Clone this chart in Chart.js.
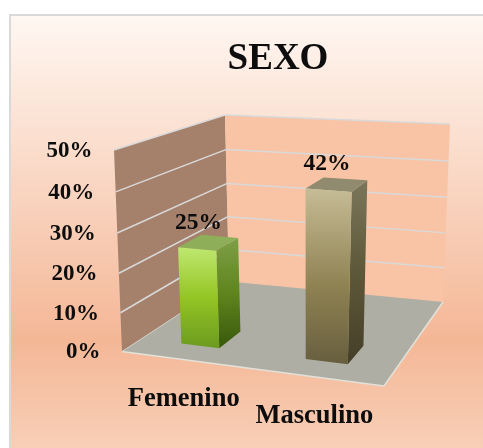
<!DOCTYPE html>
<html>
<head>
<meta charset="utf-8">
<title>SEXO</title>
<style>
  html, body { margin: 0; padding: 0; background: #fff; }
  canvas { display: block; }
</style>
<script src="https://cdn.jsdelivr.net/npm/chart.js@4"></script>
</head>
<body>
<canvas id="myChart" width="483" height="448"></canvas>
<script>
// data
const categories = ['Femenino', 'Masculino'];
const values = [0.25, 0.42];
const tickValues = [0, 0.1, 0.2, 0.3, 0.4, 0.5];
const tickLabels = ['0%', '10%', '20%', '30%', '40%', '50%'];

const serif = '"Liberation Serif", "Times New Roman", serif';
const textColor = '#0d0d0d';
const gridColor = '#d9d9d9';

// corners of the 3D box on screen, floor then ceiling: front-left, front-right, back-right, back-left
const floorQuad = [[122, 351.5], [384, 386], [443, 302], [229, 281.5]];
const roofQuad = [[114, 150], [396, 170], [450, 124], [225, 115]];
const barFrontDepth = 0.153;
const barBackDepth = 0.357;

// square to quad perspective map
function makeHomography(q) {
    const [[x0, y0], [x1, y1], [x2, y2], [x3, y3]] = q;
    const dx1 = x1 - x2, dx2 = x3 - x2, sx = x0 - x1 + x2 - x3;
    const dy1 = y1 - y2, dy2 = y3 - y2, sy = y0 - y1 + y2 - y3;
    const det = dx1 * dy2 - dx2 * dy1;
    const g = (sx * dy2 - dx2 * sy) / det;
    const h = (dx1 * sy - sx * dy1) / det;
    const a = x1 - x0 + g * x1, b = x3 - x0 + h * x3;
    const d = y1 - y0 + g * y1, e = y3 - y0 + h * y3;
    return (u, v) => {
        const w = g * u + h * v + 1;
        return [(a * u + b * v + x0) / w, (d * u + e * v + y0) / w];
    };
}
const floorMap = makeHomography(floorQuad);
const roofMap = makeHomography(roofQuad);

// u across the categories, v into the depth, w up the value axis (all 0..1)
function project(u, v, w) {
    const lift = w / (1 + 0.05 * (1 - w));
    const p = floorMap(u, v), q = roofMap(u, v);
    return [p[0] + (q[0] - p[0]) * lift, p[1] + (q[1] - p[1]) * lift];
}

function poly(ctx, pts, fill, stroke, lw) {
    ctx.beginPath();
    pts.forEach((p, i) => i ? ctx.lineTo(p[0], p[1]) : ctx.moveTo(p[0], p[1]));
    ctx.closePath();
    if (fill) { ctx.fillStyle = fill; ctx.fill(); }
    if (stroke) { ctx.strokeStyle = stroke; ctx.lineWidth = lw || 1; ctx.stroke(); }
}

function segment(ctx, a, b, color, lw) {
    ctx.beginPath();
    ctx.moveTo(a[0], a[1]);
    ctx.lineTo(b[0], b[1]);
    ctx.strokeStyle = color;
    ctx.lineWidth = lw;
    ctx.stroke();
}

function vGrad(ctx, y0, y1, stops) {
    const g = ctx.createLinearGradient(0, y0, 0, y1);
    stops.forEach(s => g.addColorStop(s[0], s[1]));
    return g;
}

function fractionOfScale(scale, value) {
    return (scale.bottom - scale.getPixelForValue(value)) / (scale.bottom - scale.top);
}

const barStyles = [
    { front: [[0, '#bfe870'], [0.5, '#93c524'], [1, '#6c9a1f']], side: [[0, '#7f9f47'], [0.5, '#5f851d'], [1, '#38580c']], top: '#8fae59' },
    { front: [[0, '#c6bc96'], [0.55, '#8f8353'], [1, '#675e3f']], side: [[0, '#7b755b'], [0.5, '#5e583a'], [1, '#453e28']], top: '#908b6f' }
];

const box3d = {
    id: 'box3d',
    beforeDraw(chart) {
        const ctx = chart.ctx;
        ctx.save();
        ctx.fillStyle = '#fff';
        ctx.fillRect(0, 0, chart.width, chart.height);
        ctx.fillStyle = gridColor;
        ctx.fillRect(9, 14, chart.width - 9, chart.height - 14);
        ctx.fillStyle = vGrad(ctx, 16, 448, [[0, '#fff7f2'], [0.75, '#f4b796'], [1, '#f8cfb7']]);
        ctx.fillRect(11, 16, chart.width - 11, chart.height - 16);
        ctx.restore();
    },
    beforeDatasetsDraw(chart) {
        const ctx = chart.ctx, y = chart.scales.y;
        ctx.save();
        // walls and floor
        poly(ctx, [project(0, 0, 0), project(0, 0, 1), project(0, 1, 1), project(0, 1, 0)], '#a5816c');
        poly(ctx, [project(0, 1, 0), project(0, 1, 1), project(1, 1, 1), project(1, 1, 0)], '#f8c4a5');
        poly(ctx, [project(0, 0, 0), project(1, 0, 0), project(1, 1, 0), project(0, 1, 0)], '#aeaea4');
        // gridlines come from the value axis
        y.ticks.forEach(t => {
            const w = fractionOfScale(y, t.value);
            if (w > 0.001) {
                segment(ctx, project(0, 0, w), project(0, 1, w), gridColor, 1.5);
                segment(ctx, project(0, 1, w), project(1, 1, w), gridColor, 1.5);
            }
        });
        segment(ctx, project(0, 0, 0), project(1, 0, 0), '#e2e2da', 1.5);
        segment(ctx, project(1, 0, 0), project(1, 1, 0), '#e2e2da', 1.5);
        segment(ctx, project(0, 0, 0), project(0, 1, 0), '#d0d0c8', 1);
        ctx.restore();
    },
    afterDatasetsDraw(chart) {
        const ctx = chart.ctx, area = chart.chartArea, y = chart.scales.y, x = chart.scales.x;
        const bars = chart.getDatasetMeta(0).data;
        ctx.save();
        bars.forEach((el, i) => {
            const st = barStyles[i];
            const u0 = (el.x - el.width / 2 - area.left) / area.width;
            const u1 = (el.x + el.width / 2 - area.left) / area.width;
            const w = (el.base - el.y) / (y.bottom - y.top);
            const v0 = barFrontDepth, v1 = barBackDepth;
            const fl = project(u0, v0, 0), fr = project(u1, v0, 0), br = project(u1, v1, 0);
            const tfl = project(u0, v0, w), tfr = project(u1, v0, w), tbr = project(u1, v1, w), tbl = project(u0, v1, w);
            poly(ctx, [fr, tfr, tbr, br], vGrad(ctx, tbr[1], fr[1], st.side));
            poly(ctx, [tfl, tfr, tbr, tbl], st.top);
            poly(ctx, [fl, tfl, tfr, fr], vGrad(ctx, tfl[1], fr[1], st.front));

            ctx.fillStyle = textColor;
            ctx.textAlign = 'center';
            ctx.textBaseline = 'middle';
            ctx.font = 'bold 23.5px ' + serif;
            // value label sits over the middle of the bar's top face
            const top = project((u0 + u1) / 2, (v0 + v1) / 2, w);
            ctx.fillText(Math.round(values[i] * 100) + '%', top[0] - 10, top[1] - 20);
        });

        // axis labels follow the front edges of the box
        ctx.fillStyle = textColor;
        ctx.textBaseline = 'middle';
        ctx.textAlign = 'right';
        ctx.font = 'bold 23px ' + serif;
        y.ticks.forEach(t => {
            const p = project(0, 0, fractionOfScale(y, t.value));
            ctx.fillText(t.label, p[0] - 21.5, p[1] + 1);
        });
        ctx.textAlign = 'center';
        ctx.font = 'bold 26.5px ' + serif;
        categories.forEach((c, i) => {
            const p = project((x.getPixelForValue(i) - area.left) / area.width, 0, 0);
            ctx.fillText(c, p[0] + 1.5, p[1] + 40);
        });
        ctx.restore();
    }
};

new Chart(document.getElementById('myChart').getContext('2d'), {
    type: 'bar',
    data: {
        labels: categories,
        datasets: [{
            label: 'SEXO',
            data: values,
            backgroundColor: 'transparent',
            categoryPercentage: 1,
            barPercentage: 0.316
        }]
    },
    options: {
        responsive: false,
        animation: false,
        layout: { padding: { left: 122, right: 49, top: 37, bottom: 96 } },
        scales: {
            x: { display: false },
            y: {
                display: false,
                min: 0,
                max: 0.5,
                afterBuildTicks(axis) { axis.ticks = tickValues.map(v => ({ value: v })); },
                ticks: { callback: (v, i) => tickLabels[i] }
            }
        },
        plugins: {
            legend: { display: false },
            tooltip: { enabled: false },
            title: {
                display: true,
                text: 'SEXO',
                fullSize: false,
                color: textColor,
                font: { family: serif, size: 37, weight: 'bold' },
                padding: { top: 0, bottom: 69 }
            }
        }
    },
    plugins: [box3d]
});
</script>
</body>
</html>
